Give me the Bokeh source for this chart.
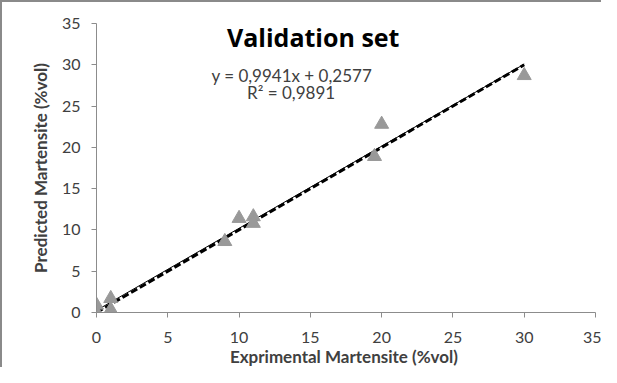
from bokeh.plotting import figure
from bokeh.models import Label, Range1d, FixedTicker
from bokeh.embed import file_html
from bokeh.resources import INLINE

# data
exp_x = [0, 0, 1, 1, 9, 10, 11, 11, 19.5, 20, 30]
pred_y = [0.9, 0.05, 1.7, 0.35, 8.6, 11.4, 11.6, 10.8, 18.9, 22.8, 28.7]
fit_slope = 0.9941
fit_intercept = 0.2577
line_x = [0, 30]
ticks = [0, 5, 10, 15, 20, 25, 30, 35]

FONT = "Lato"
TXT = "#404040"

p = figure(width=601, height=367, output_backend="svg", toolbar_location=None,
           x_range=Range1d(0, 35), y_range=Range1d(0, 35),
           min_border_left=94, min_border_right=8, min_border_top=21, min_border_bottom=55)
p.styles = {"border-left": "2px solid #8a8a8a", "border-top": "2px solid #8a8a8a",
            "box-sizing": "border-box"}
p.outline_line_color = None
p.grid.visible = False
p.background_fill_color = "white"
p.border_fill_color = "white"

for ax in (p.xaxis[0], p.yaxis[0]):
    ax.ticker = FixedTicker(ticks=ticks)
    ax.minor_tick_line_color = None
    ax.axis_line_color = "#8c8c8c"
    ax.major_tick_line_color = "#8c8c8c"
    ax.major_tick_in = 0
    ax.major_tick_out = 5
    ax.major_label_text_font = FONT
    ax.major_label_text_font_size = "16px"
    ax.major_label_text_color = TXT
    ax.axis_label_text_font = FONT
    ax.axis_label_text_font_style = "bold"
    ax.axis_label_text_font_size = "17px"
    ax.axis_label_text_color = TXT

p.xaxis.axis_label = "Exprimental  Martensite (%vol)"
p.yaxis.axis_label = "Predicted Martensite (%vol)"
p.xaxis.major_label_standoff = 14
p.xaxis.axis_label_standoff = 0
p.yaxis.major_label_standoff = 11
p.yaxis.axis_label_standoff = 8

fit_y = [fit_slope * x + fit_intercept for x in line_x]
p.line(line_x, line_x, line_color="black", line_width=3, line_dash="7 3")
p.line(line_x, fit_y, line_color="black", line_width=1)
p.scatter(exp_x, pred_y, marker="triangle", size=14, fill_color="#999999",
          line_color="#999999")

p.add_layout(Label(x=15.2, y=33.4, text="Validation set", text_font="Open Sans",
                   text_font_style="bold", text_font_size="25px", text_color="black",
                   text_align="center", text_baseline="middle"))
p.add_layout(Label(x=13.7, y=28.7, text="y = 0,9941x + 0,2577", text_font=FONT,
                   text_font_size="17px", text_color=TXT,
                   text_align="center", text_baseline="middle"))
p.add_layout(Label(x=13.65, y=26.6, text="R² = 0,9891", text_font=FONT,
                   text_font_size="17px", text_color=TXT,
                   text_align="center", text_baseline="middle"))

open("out.html", "w").write(file_html(p, INLINE))
